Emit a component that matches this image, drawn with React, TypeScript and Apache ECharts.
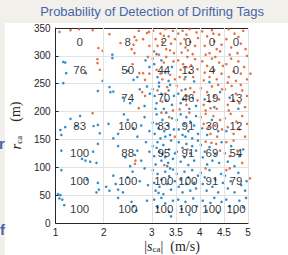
import React, { useEffect, useRef } from "react";
import * as echarts from "echarts";

// bin edges (speed m/s, range m)
const xEdges = [1, 2, 3, 3.5, 4, 4.5, 5];
const yEdges = [0, 50, 100, 150, 200, 250, 300, 350];
const xTicks = [1, 2, 3, 3.5, 4, 4.5, 5];

// probability of detection per cell, rows bottom (0-50 m) to top (300-350 m)
const pdRows: (number | null)[][] = [
  [100, 100, 100, 100, 100, 100],
  [100, 100, 100, 100, 91, 79],
  [100, 88, 95, 91, 69, 54],
  [83, 100, 83, 91, 30, 12],
  [null, 74, 70, 46, 19, 13],
  [76, 50, 44, 13, 4, 0],
  [0, 8, 2, 0, 0, 0],
];

// detected tags [speed, range]
const detected: [number, number][] = [
  [2.18, 302], [3.1, 303],
  [1.16, 289], [1.2, 288], [1.22, 269], [1.63, 269], [1.16, 251], [1.98, 255],
  [2.18, 296], [2.87, 292], [2.5, 273], [2.62, 257], [2.95, 280], [2.7, 262],
  [3.05, 285], [3.12, 262], [3.2, 292], [3.28, 270], [3.35, 255], [3.42, 280], [3.15, 252],
  [3.7, 262], [3.88, 254], [4.2, 253],
  [1.88, 237],
  [2.12, 244], [2.14, 235], [2.2, 236], [2.9, 245], [2.96, 232], [2.4, 225], [2.55, 215], [2.75, 240], [2.85, 210],
  [3.02, 240], [3.06, 228], [3.1, 215], [3.15, 245], [3.2, 232], [3.25, 205], [3.3, 220], [3.35, 238], [3.42, 212], [3.46, 228], [3.08, 205], [3.38, 248],
  [3.55, 232], [3.6, 215], [3.7, 240], [3.78, 205], [3.85, 225], [3.92, 210], [3.66, 222],
  [4.1, 222], [4.3, 208], [4.42, 235], [4.62, 225], [4.8, 205],
  [1.1, 167], [1.2, 172], [1.31, 187], [1.43, 174], [1.51, 192], [1.79, 174], [1.88, 176], [1.92, 161], [1.12, 158],
  [2.1, 178], [2.3, 160], [2.5, 185], [2.62, 170], [2.7, 155], [2.85, 190], [2.95, 165], [2.42, 195], [2.78, 175], [2.2, 152],
  [3.02, 180], [3.06, 160], [3.1, 195], [3.14, 170], [3.18, 152], [3.22, 185], [3.26, 165], [3.3, 198], [3.34, 175], [3.38, 158], [3.42, 188], [3.46, 168], [3.1, 178], [3.28, 155],
  [3.52, 185], [3.56, 168], [3.6, 195], [3.64, 158], [3.68, 178], [3.72, 190], [3.76, 165], [3.8, 182], [3.84, 152], [3.88, 175], [3.92, 192], [3.96, 160], [3.7, 155],
  [4.05, 170], [4.15, 158], [4.25, 185], [4.38, 165], [4.55, 165],
  [1.12, 130], [1.55, 115], [1.62, 112], [1.78, 128], [1.85, 108], [1.88, 142], [1.72, 110],
  [2.3, 138], [2.45, 118], [2.55, 102], [2.7, 130], [2.78, 112], [2.88, 145], [2.95, 128], [2.65, 122],
  [3.02, 138], [3.05, 120], [3.08, 105], [3.12, 145], [3.16, 128], [3.2, 112], [3.24, 140], [3.28, 118], [3.32, 102], [3.36, 132], [3.4, 148], [3.44, 115], [3.48, 125], [3.1, 135], [3.34, 108], [3.22, 124],
  [3.52, 128], [3.56, 145], [3.6, 110], [3.64, 135], [3.68, 118], [3.72, 142], [3.76, 104], [3.8, 125], [3.84, 138], [3.88, 112], [3.92, 130], [3.96, 148],
  [4.02, 140], [4.06, 118], [4.1, 128], [4.15, 105], [4.2, 136], [4.26, 112], [4.32, 124], [4.4, 108], [4.45, 145],
  [4.52, 125], [4.58, 110], [4.65, 138], [4.72, 102], [4.82, 120], [4.9, 132],
  [1.12, 95], [1.65, 78], [1.88, 72], [1.9, 60], [1.85, 55], [1.05, 52], [1.1, 50],
  [2.05, 65], [2.12, 58], [2.2, 85], [2.25, 70], [2.3, 60], [2.5, 82], [2.6, 92], [2.75, 75], [2.85, 98], [2.92, 68], [2.4, 55],
  [3.02, 95], [3.05, 72], [3.08, 58], [3.12, 88], [3.16, 65], [3.2, 78], [3.24, 52], [3.28, 92], [3.32, 70], [3.36, 84], [3.4, 60], [3.44, 96], [3.48, 75], [3.14, 54], [3.38, 98],
  [3.52, 88], [3.56, 65], [3.6, 78], [3.64, 55], [3.68, 92], [3.72, 70], [3.76, 82], [3.8, 58], [3.84, 95], [3.88, 72], [3.92, 62], [3.96, 85],
  [4.02, 90], [4.06, 70], [4.1, 82], [4.14, 58], [4.2, 95], [4.26, 65], [4.32, 78], [4.38, 55], [4.44, 88], [4.48, 72],
  [4.52, 85], [4.58, 62], [4.64, 75], [4.72, 55], [4.8, 90], [4.86, 68], [4.94, 58], [4.97, 75],
  [1.08, 44], [1.14, 42], [1.18, 32],
  [2.58, 38], [2.62, 30], [2.68, 22], [2.9, 40], [2.3, 45],
  [3.05, 42], [3.12, 28], [3.2, 45], [3.28, 35], [3.36, 20], [3.44, 40], [3.4, 12],
  [3.55, 42], [3.62, 25], [3.7, 38], [3.78, 15], [3.86, 44], [3.94, 30],
  [4.06, 40], [4.14, 22], [4.22, 36], [4.3, 45], [4.38, 18], [4.45, 38],
  [4.55, 42], [4.62, 30], [4.72, 18], [4.82, 40], [4.9, 28], [4.96, 45],
];

// missed tags [speed, range]
const missed: [number, number][] = [
  [1.08, 343], [1.31, 346], [1.49, 348], [1.77, 346], [1.89, 314], [1.98, 309],
  [2.12, 339], [2.35, 323], [2.64, 334], [2.68, 328], [2.62, 320], [2.64, 305], [2.9, 341], [2.94, 343], [2.73, 345], [2.95, 318], [2.82, 330], [2.58, 312],
  [3.03, 345], [3.08, 330], [3.12, 318], [3.18, 340], [3.22, 325], [3.28, 348], [3.3, 312], [3.35, 335], [3.4, 322], [3.44, 345], [3.46, 305], [3.05, 308], [3.15, 302], [3.38, 310], [3.25, 336], [3.48, 330],
  [3.55, 340], [3.6, 322], [3.64, 345], [3.68, 330], [3.72, 338], [3.75, 310], [3.8, 325], [3.85, 303], [3.9, 318], [3.93, 342], [3.62, 306], [3.7, 315], [3.78, 348], [3.96, 332],
  [4.05, 344], [4.1, 318], [4.15, 335], [4.2, 305], [4.25, 346], [4.3, 326], [4.35, 312], [4.4, 338], [4.45, 320], [4.12, 302], [4.28, 340], [4.42, 308],
  [4.55, 330], [4.6, 348], [4.65, 315], [4.72, 340], [4.78, 305], [4.85, 322], [4.9, 345], [4.95, 312], [4.62, 302], [4.8, 334], [4.98, 300],
  [1.87, 294], [1.87, 287], [1.92, 275],
  [2.74, 269], [2.82, 269], [2.86, 257], [2.6, 285], [2.92, 298], [2.95, 268],
  [3.02, 295], [3.1, 275], [3.18, 268], [3.25, 288], [3.3, 298], [3.38, 266], [3.45, 290], [3.48, 258], [3.22, 258],
  [3.55, 292], [3.6, 275], [3.65, 285], [3.68, 258], [3.74, 298], [3.78, 270], [3.82, 283], [3.86, 262], [3.9, 294], [3.95, 276], [3.58, 262], [3.72, 280],
  [4.05, 290], [4.1, 270], [4.15, 282], [4.2, 262], [4.25, 295], [4.3, 275], [4.35, 258], [4.4, 288], [4.45, 268], [4.08, 256], [4.32, 298], [4.48, 282],
  [4.55, 285], [4.6, 262], [4.65, 295], [4.7, 272], [4.75, 255], [4.8, 290], [4.85, 268], [4.92, 280], [4.98, 258], [5.05, 268], [4.58, 252],
  [2.8, 235], [2.86, 228], [2.73, 206],
  [3.12, 238], [3.22, 218], [3.32, 244], [3.44, 202], [3.28, 232],
  [3.52, 246], [3.62, 238], [3.72, 212], [3.8, 242], [3.88, 235], [3.95, 220], [3.74, 228], [3.58, 204],
  [4.02, 242], [4.08, 212], [4.15, 235], [4.2, 218], [4.25, 245], [4.3, 228], [4.35, 205], [4.4, 222], [4.46, 240], [4.12, 202], [4.38, 248], [4.22, 206],
  [4.52, 240], [4.58, 212], [4.66, 246], [4.7, 220], [4.75, 232], [4.82, 215], [4.88, 238], [4.94, 208], [4.98, 228], [4.6, 202], [4.85, 248],
  [1.77, 197],
  [3.2, 198], [3.36, 190], [3.48, 155], [3.78, 198],
  [4.02, 190], [4.08, 178], [4.12, 196], [4.18, 172], [4.22, 160], [4.28, 192], [4.32, 175], [4.36, 155], [4.42, 185], [4.46, 168],
  [4.52, 188], [4.58, 172], [4.64, 196], [4.7, 160], [4.76, 182], [4.82, 168], [4.88, 192], [4.94, 155], [4.98, 178],
  [2.65, 106], [2.66, 112],
  [3.26, 104], [3.74, 132],
  [4.12, 146], [4.24, 144], [4.34, 142], [4.42, 130],
  [4.55, 145], [4.62, 120], [4.7, 148], [4.78, 130], [4.88, 108],
  [4.12, 98], [4.55, 95], [4.62, 98], [5.04, 80],
];

const AXIS = "#262626";
const GRID = "#e2e2e2";

export default function App() {
  const ref = useRef<HTMLDivElement>(null);
  useEffect(() => {
    const chart = echarts.init(ref.current!, null, { renderer: "svg" });
    const labels: any[] = [];
    pdRows.forEach((row, r) =>
      row.forEach((v, c) => {
        if (v === null) return;
        labels.push({
          value: [(xEdges[c] + xEdges[c + 1]) / 2, (yEdges[r] + yEdges[r + 1]) / 2],
          pd: v,
        });
      })
    );
    const vLines = xEdges.slice(1).map((x) => ({ xAxis: x }));
    chart.setOption({
      animation: false,
      backgroundColor: "#f2f0eb",
      graphic: [
        {
          type: "rect",
          z: -100,
          silent: true,
          shape: { x: 5, y: 23, width: 283, height: 232 },
          style: { fill: "#ffffff" },
        },
        {
          type: "text",
          x: 152,
          y: 11,
          style: {
            text: "Probability of Detection of Drifting Tags",
            fill: "#4666aa",
            font: "13px 'Liberation Sans', Arial, sans-serif",
            textAlign: "center",
            textVerticalAlign: "middle",
          },
        },
        {
          type: "text",
          x: 172,
          y: 246,
          style: {
            text: "|{i|s}{sub|ca}|  (m/s)",
            fill: AXIS,
            font: "14px 'Liberation Serif', serif",
            textAlign: "center",
            textVerticalAlign: "middle",
            rich: {
              i: { fontStyle: "italic", fontSize: 14, fontFamily: "Liberation Serif" },
              sub: { fontSize: 9, fontFamily: "Liberation Serif", padding: [6, 0, 0, 0] },
            },
          },
        },
        {
          type: "text",
          x: -1,
          y: 136,
          style: { text: "r", fill: "#4666aa", font: "bold 15px 'Liberation Sans', sans-serif" },
        },
        {
          type: "text",
          x: 0,
          y: 222,
          style: { text: "f", fill: "#4666aa", font: "bold 15px 'Liberation Sans', sans-serif" },
        },
      ],
      grid: { left: 45, right: 40, top: 28, bottom: 32 },
      xAxis: [
        {
          type: "value",
          min: 1,
          max: 5,
          position: "bottom",
          axisLine: { show: true, lineStyle: { color: AXIS, width: 1 } },
          axisTick: { show: true, inside: true, length: 3, customValues: xTicks, lineStyle: { color: AXIS } },
          axisLabel: {
            customValues: xTicks,
            color: AXIS,
            fontSize: 10,
            fontFamily: "Liberation Sans",
            margin: 4,
          },
          splitLine: { show: false },
        },
        {
          type: "value",
          min: 1,
          max: 5,
          position: "top",
          axisLine: { show: true, lineStyle: { color: AXIS, width: 1 } },
          axisTick: { show: true, inside: true, length: 3, customValues: xTicks, lineStyle: { color: AXIS } },
          axisLabel: { show: false },
          splitLine: { show: false },
        },
      ],
      yAxis: {
        type: "value",
        min: 0,
        max: 350,
        interval: 50,
        axisLine: { show: true, lineStyle: { color: AXIS, width: 1 } },
        axisTick: { show: true, inside: true, length: 3, lineStyle: { color: AXIS } },
        axisLabel: { color: AXIS, fontSize: 10, fontFamily: "Liberation Sans", margin: 5 },
        splitLine: { show: true, lineStyle: { color: GRID, width: 1 } },
        name: "{i|r}{sub|ca}{n|    (m)}",
        nameLocation: "middle",
        nameRotate: 90,
        nameGap: 24,
        nameTextStyle: {
          color: AXIS,
          rich: {
            i: { fontStyle: "italic", fontSize: 15, fontFamily: "Liberation Serif", color: AXIS },
            sub: { fontSize: 9, fontFamily: "Liberation Serif", color: AXIS, padding: [6, 0, 0, 0] },
            n: { fontSize: 14, fontFamily: "Liberation Serif", color: AXIS },
          },
        },
      },
      series: [
        {
          type: "scatter",
          data: [],
          z: 1,
          silent: true,
          markLine: {
            silent: true,
            symbol: ["none", "none"],
            label: { show: false },
            lineStyle: { color: GRID, width: 1, type: "solid" },
            data: vLines,
          },
        },
        {
          type: "scatter",
          data: missed,
          z: 3,
          clip: false,
          symbol: "circle",
          symbolSize: 2.6,
          itemStyle: { color: "#D95319" },
        },
        {
          type: "scatter",
          data: detected,
          z: 4,
          clip: false,
          symbol: "circle",
          symbolSize: 2.6,
          itemStyle: { color: "#0072BD" },
        },
        {
          type: "scatter",
          data: labels,
          z: 5,
          symbol: "circle",
          symbolSize: 1,
          itemStyle: { color: "rgba(0,0,0,0)" },
          label: {
            show: true,
            position: "inside",
            formatter: (p: any) => String(p.data.pd),
            color: "#000",
            fontSize: 11.5,
            fontFamily: "Liberation Sans",
          },
        },
      ],
    });
    return () => chart.dispose();
  }, []);
  return (
    <div
      ref={ref}
      style={{ position: "fixed", left: 0, top: 0, width: 288, height: 255 }}
    />
  );
}
